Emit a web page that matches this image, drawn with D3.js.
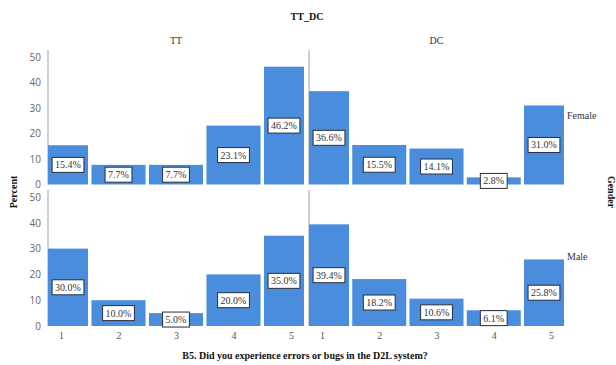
<!DOCTYPE html>
<html>
<head>
<meta charset="utf-8">
<script src="https://cdn.jsdelivr.net/npm/d3@7/dist/d3.min.js"></script>
<style>
  html, body { margin: 0; padding: 0; background: #fff; }
  svg { display: block; }
</style>
</head>
<body>
<svg id="chart" width="616" height="365"></svg>
<script>
// Response categories for B5 (1–5)
const categories = [1, 2, 3, 4, 5];
// Column panels (TT_DC) and row panels (Gender)
const columns = ["TT", "DC"];
const rows = ["Female", "Male"];
// Percent of respondents per category, by panel
const ttFemale = [15.4, 7.7, 7.7, 23.1, 46.2];
const dcFemale = [36.6, 15.5, 14.1, 2.8, 31.0];
const ttMale   = [30.0, 10.0, 5.0, 20.0, 35.0];
const dcMale   = [39.4, 18.2, 10.6, 6.1, 25.8];
const yTicks = [0, 10, 20, 30, 40, 50];

const values = {
  Female: { TT: ttFemale, DC: dcFemale },
  Male:   { TT: ttMale,   DC: dcMale }
};

const SERIF = "'Liberation Serif', Tinos, 'DejaVu Serif', serif";
const SANS = "'Open Sans', 'DejaVu Sans', sans-serif";

const svg = d3.select("#chart");
const barColor = "#4a8ddc";

// Panel geometry
const colExtent = { TT: [48, 304], DC: [309, 564] };
const rowExtent = { Female: [184.5, 57], Male: [326, 197] };
const edgePad = 13;

const xScales = {};
columns.forEach(c => {
  const [l, r] = colExtent[c];
  xScales[c] = d3.scaleLinear().domain([1, 5]).range([l + edgePad, r - edgePad]);
});
const yScales = {};
rows.forEach(r => {
  yScales[r] = d3.scaleLinear().domain([0, 50]).range(rowExtent[r]);
});

const step = xScales.TT(2) - xScales.TT(1);
const barW = step * 0.94;

// Clip paths per panel so edge bars are cut at the panel border
const defs = svg.append("defs");
rows.forEach(r => columns.forEach(c => {
  const [l, rr] = colExtent[c];
  const y = yScales[r];
  defs.append("clipPath").attr("id", `clip-${r}-${c}`)
    .append("rect")
    .attr("x", l).attr("y", y(52))
    .attr("width", rr - l).attr("height", y(0) - y(52) + 1);
}));

// Vertical axis line and panel divider
rows.forEach(r => {
  const y = yScales[r];
  const top = r === "Female" ? 50 : 190;
  svg.append("line")
    .attr("x1", 48).attr("x2", 48)
    .attr("y1", top).attr("y2", y(0))
    .attr("stroke", "#a0a0a0").attr("stroke-width", 1);
  svg.append("line")
    .attr("x1", 309).attr("x2", 309)
    .attr("y1", top).attr("y2", y(0))
    .attr("stroke", "#a0a0a0").attr("stroke-width", 1);

  // y axis tick labels
  const axis = d3.axisLeft(y).tickValues(yTicks).tickSize(0).tickPadding(7);
  const g = svg.append("g").attr("transform", "translate(48,0)").call(axis);
  g.select(".domain").remove();
  g.attr("font-family", null).attr("font-size", null);
  g.selectAll("text")
    .attr("fill", "#666")
    .style("font-family", SANS)
    .style("font-size", "10px");
});

// Bars and value labels
rows.forEach(r => columns.forEach(c => {
  const x = xScales[c];
  const y = yScales[r];
  const [l, rr] = colExtent[c];
  const data = categories.map((k, i) => ({ k, v: values[r][c][i] }));

  svg.append("g").attr("clip-path", `url(#clip-${r}-${c})`)
    .selectAll("rect").data(data).join("rect")
    .attr("x", d => x(d.k) - barW / 2)
    .attr("y", d => y(d.v))
    .attr("width", barW)
    .attr("height", d => y(0) - y(d.v))
    .attr("fill", barColor);

  const lab = svg.append("g").selectAll("g").data(data).join("g")
    .attr("transform", d => {
      const x0 = Math.max(l, x(d.k) - barW / 2);
      const x1 = Math.min(rr, x(d.k) + barW / 2);
      return `translate(${(x0 + x1) / 2},${(y(d.v) + y(0)) / 2})`;
    });
  const txt = lab.append("text")
    .attr("text-anchor", "middle")
    .attr("dy", "0.35em")
    .attr("fill", "#333")
    .style("font-family", SERIF)
    .style("font-size", "10px")
    .text(d => d.v.toFixed(1) + "%");
  txt.each(function () {
    const w = this.getComputedTextLength() + 6;
    d3.select(this.parentNode).insert("rect", "text")
      .attr("x", -w / 2).attr("y", -7.5)
      .attr("width", w).attr("height", 15)
      .attr("fill", "#fff")
      .attr("stroke", "#2b2f3a")
      .attr("stroke-width", 1);
  });
}));

// x axis category labels under the bottom row
columns.forEach(c => {
  const axis = d3.axisBottom(xScales[c]).tickValues(categories)
    .tickFormat(d3.format("d")).tickSize(0).tickPadding(6);
  const g = svg.append("g").attr("transform", `translate(0,${yScales.Male(0)})`).call(axis);
  g.select(".domain").remove();
  g.selectAll("text")
    .attr("fill", "#555")
    .style("font-family", SERIF)
    .style("font-size", "10px");
});

// Titles
function label(x, y, s, opts = {}) {
  return svg.append("text")
    .attr("transform", `translate(${x},${y})` + (opts.rotate ? ` rotate(${opts.rotate})` : ""))
    .attr("text-anchor", opts.anchor || "middle")
    .attr("fill", opts.fill || "#111")
    .style("font-family", SERIF)
    .style("font-size", "10px")
    .style("font-weight", opts.bold ? "bold" : "normal")
    .text(s);
}
label(307, 20, "TT_DC", { bold: true });
columns.forEach(c => {
  const [l, r] = colExtent[c];
  label((l + r) / 2, 44, c, { fill: "#333" });
});
rows.forEach(r => {
  const y = yScales[r];
  label(567, (y(0) + y(50)) / 2 - 1.5, r, { anchor: "start", fill: "#333" });
});
label(17, 192, "Percent", { bold: true, rotate: -90 });
label(608, 192, "Gender", { bold: true, rotate: 90 });
label(305, 359, "B5. Did you experience errors or bugs in the D2L system?", { bold: true });
</script>
</body>
</html>
